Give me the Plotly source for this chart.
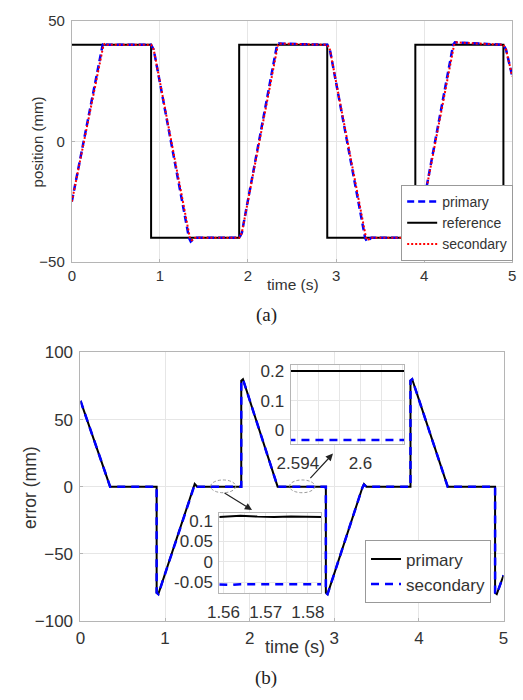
import plotly.graph_objects as go

W, H = 523, 700

# ---------------- data: (a) position ----------------
ref_t = [0, 0.9, 0.9, 1.9, 1.9, 2.9, 2.9, 3.9, 3.9, 4.9, 4.9, 5.0]
ref_y = [40, 40, -40, -40, 40, 40, -40, -40, 40, 40, -40, -40]

pri_t = [0, 0.35, 0.37, 0.40, 0.90, 0.93, 1.33, 1.35, 1.40, 1.90, 1.93, 2.33, 2.35, 2.90,
         2.93, 3.33, 3.35, 3.40, 3.90, 3.93, 4.33, 4.35, 4.90, 4.93, 5.00]
pri_y = [-25, 40, 41, 40, 40, 38, -40, -41.5, -40, -40, -38, 40, 40.5, 40,
         38, -40, -41.5, -40, -40, -38, 40, 41, 40, 38, 27]

sec_t = [0, 0.36, 0.38, 0.40, 0.90, 0.93, 1.34, 1.36, 1.40, 1.90, 1.93, 2.34, 2.36, 2.90,
         2.93, 3.34, 3.36, 3.40, 3.90, 3.93, 4.34, 4.36, 4.90, 4.93, 5.00]
sec_y = [-25, 40, 40.5, 40, 40, 38, -40, -41, -40, -40, -38, 40, 40.5, 40,
         38, -40, -41, -40, -40, -38, 40, 41, 40, 38, 27]

# ---------------- data: (b) error ----------------
err_t = [0, 0.35, 0.90, 0.90, 0.92, 1.33, 1.35, 1.38, 1.90, 1.90, 1.92, 2.33, 2.90, 2.90,
         2.92, 3.33, 3.35, 3.38, 3.90, 3.90, 3.92, 4.34, 4.90, 4.90, 4.92, 5.00]
err_pri = [64, 0, 0, -79, -80, -1, 2, 0, 0, 79, 80, 0, 0, -79,
           -80, -1, 2, 0, 0, 79, 80, 0, 0, -79, -80, -66]
err_sec = [64, 0, 0, -79, -80, -1, 1.5, 0, 0, 79, 80, 0, 0, -79,
           -80, -1, 1.5, 0, 0, 79, 80, 0, 0, -79, -80, -66]

# inset 1 (around t = 2.6 s)
in1_t = [2.5930, 2.5960, 2.5990, 2.6020, 2.6045]
in1_pri = [0.2, 0.2, 0.2, 0.2, 0.2]
in1_sec = [-0.033, -0.033, -0.033, -0.033, -0.033]

# inset 2 (around t = 1.57 s)
in2_t = [1.5590, 1.5620, 1.5640, 1.5680, 1.5720, 1.5760, 1.5800, 1.5835]
in2_pri = [0.110, 0.112, 0.113, 0.111, 0.110, 0.111, 0.110, 0.110]
in2_sec = [-0.056, -0.057, -0.055, -0.055, -0.055, -0.055, -0.055, -0.055]

FONT = "Liberation Sans, Arial, sans-serif"
SERIF = "Liberation Serif, Times New Roman, serif"
TICKC = "#333333"
GRID = "#e6e6e6"
LINE = "#b5b5b5"

def px(x):
    return x / W

def py(y):
    return 1 - y / H

fig = go.Figure()

# (a)
fig.add_trace(go.Scatter(x=ref_t, y=ref_y, mode="lines", name="reference",
                         line=dict(color="black", width=2), legendrank=2,
                         xaxis="x", yaxis="y", legend="legend"))
fig.add_trace(go.Scatter(x=pri_t, y=pri_y, mode="lines", name="primary",
                         line=dict(color="#0000ff", width=2.5, dash="7px,4px"), legendrank=1,
                         xaxis="x", yaxis="y", legend="legend"))
fig.add_trace(go.Scatter(x=sec_t, y=sec_y, mode="lines", name="secondary",
                         line=dict(color="#ff0000", width=2, dash="2px,2px"), legendrank=3,
                         xaxis="x", yaxis="y", legend="legend"))

# (b)
fig.add_trace(go.Scatter(x=err_t, y=err_pri, mode="lines", name="primary",
                         line=dict(color="black", width=2),
                         xaxis="x2", yaxis="y2", legend="legend2"))
fig.add_trace(go.Scatter(x=err_t, y=err_sec, mode="lines", name="secondary",
                         line=dict(color="#0000ff", width=2.5, dash="8px,6px"),
                         xaxis="x2", yaxis="y2", legend="legend2"))

# insets
fig.add_trace(go.Scatter(x=in1_t, y=in1_pri, mode="lines", showlegend=False,
                         line=dict(color="black", width=2), xaxis="x3", yaxis="y3"))
fig.add_trace(go.Scatter(x=in1_t, y=in1_sec, mode="lines", showlegend=False,
                         line=dict(color="#0000ff", width=2.5, dash="8px,6px"), xaxis="x3", yaxis="y3"))
fig.add_trace(go.Scatter(x=in2_t, y=in2_pri, mode="lines", showlegend=False,
                         line=dict(color="black", width=2), xaxis="x4", yaxis="y4"))
fig.add_trace(go.Scatter(x=in2_t, y=in2_sec, mode="lines", showlegend=False,
                         line=dict(color="#0000ff", width=2.5, dash="8px,6px"), xaxis="x4", yaxis="y4"))

def ax(size=15, **kw):
    d = dict(showline=True, linecolor=LINE, linewidth=1, mirror=True,
             showgrid=True, gridcolor=GRID, gridwidth=1, zeroline=False,
             ticks="inside", ticklen=3, tickcolor=LINE,
             tickfont=dict(family=FONT, color=TICKC, size=size))
    d.update(kw)
    return d

fig.update_layout(
    width=W, height=H, margin=dict(l=0, r=0, t=0, b=0),
    paper_bgcolor="white", plot_bgcolor="white",
    font=dict(family=FONT, color=TICKC),
    xaxis=ax(15, domain=[px(60), px(517)], range=[0, 5], tickvals=[0, 1, 2, 3, 4, 5],
             anchor="y", ticklabelstandoff=0),
    yaxis=ax(15, domain=[py(260), py(12)], range=[-50, 50], tickvals=[-50, 0, 50],
             anchor="x", ticklabelstandoff=3),
    xaxis2=ax(17, domain=[px(69), px(508)], range=[0, 5], tickvals=[0, 1, 2, 3, 4, 5],
              anchor="y2", ticklabelstandoff=2),
    yaxis2=ax(17, domain=[py(629), py(353)], range=[-100, 100], tickvals=[-100, -50, 0, 50, 100],
              anchor="x2", ticklabelstandoff=3),
    xaxis3=ax(17, domain=[px(287), px(405)], range=[2.5933, 2.6042], tickvals=[2.594, 2.6],
              ticktext=["2.594", "2.6"], anchor="y3", ticks="",
              minor=dict(tick0=2.594, dtick=0.002, showgrid=True, gridcolor=GRID),
              ticklabelstandoff=4),
    yaxis3=ax(17, domain=[py(447), py(366)], range=[-0.046, 0.22], tickvals=[0, 0.1, 0.2],
              ticktext=["0", "0.1", "0.2"], anchor="x3", ticks="", ticklabelstandoff=2),
    xaxis4=ax(17, domain=[px(213), px(319)], range=[1.559, 1.5832], tickvals=[1.56, 1.57, 1.58],
              ticktext=["1.56", "1.57", "1.58"], anchor="y4", ticks="",
              minor=dict(tick0=1.56, dtick=0.005, showgrid=True, gridcolor=GRID),
              ticklabelstandoff=4),
    yaxis4=ax(17, domain=[py(600), py(518)], range=[-0.076, 0.12], tickvals=[-0.05, 0, 0.05, 0.1],
              ticktext=["-0.05", "0", "0.05", "0.1"], anchor="x4", ticks="", ticklabelstandoff=2),
    legend=dict(x=px(518), y=py(259), xanchor="right", yanchor="bottom",
                bgcolor="white", bordercolor="#999999", borderwidth=1,
                font=dict(family=FONT, size=14, color=TICKC),
                tracegroupgap=0, itemwidth=30),
    legend2=dict(x=px(495), y=py(611), xanchor="right", yanchor="bottom",
                 bgcolor="white", bordercolor="#999999", borderwidth=1,
                 font=dict(family=FONT, size=17, color=TICKC),
                 tracegroupgap=0, itemwidth=30),
)

# dashed ellipses
for x0, x1 in [(1.538, 1.834), (2.47, 2.77)]:
    fig.add_shape(type="circle", xref="x2", yref="y2", x0=x0, x1=x1, y0=-4.5, y1=5,
                  line=dict(color="#999999", width=1, dash="3px,2px"))

# arrows
fig.add_annotation(x=px(247), y=py(515), xref="paper", yref="paper", ax=-29, ay=-18,
                   showarrow=True, arrowhead=2, arrowsize=1.2, arrowwidth=1.2,
                   arrowcolor="#222222", text="")
fig.add_annotation(x=px(331), y=py(457), xref="paper", yref="paper", ax=-24, ay=26,
                   showarrow=True, arrowhead=2, arrowsize=1.2, arrowwidth=1.2,
                   arrowcolor="#222222", text="")

# axis titles and captions
def label(text, x, y, size, angle=0, family=FONT, color=TICKC):
    fig.add_annotation(text=text, x=px(x), y=py(y), xref="paper", yref="paper",
                       showarrow=False, textangle=angle, xanchor="center", yanchor="middle",
                       font=dict(family=family, size=size, color=color))

label("position (mm)", 24, 137, 15, angle=-90)
label("time (s)", 290, 283, 15.5)
label("error (mm)", 16, 492, 17.5, angle=-90)
label("time (s)", 292, 656, 18)
label("(a)", 262, 315, 19, family=SERIF, color="#222222")
label("(b)", 262, 688, 19, family=SERIF, color="#222222")

fig.write_html("out.html")
